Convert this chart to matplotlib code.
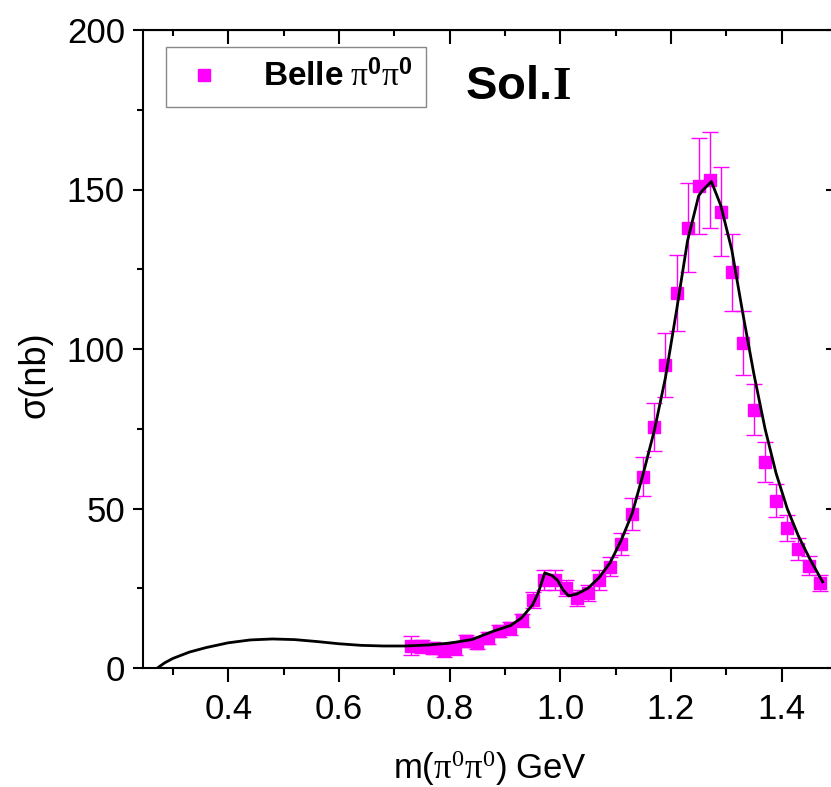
import matplotlib
matplotlib.use("Agg")
from matplotlib import pyplot as plt
from matplotlib.ticker import MultipleLocator
import numpy as np

# fonts: sans for text, serif for the greek letters
plt.rcParams['font.family'] = ['Liberation Sans', 'DejaVu Sans']
plt.rcParams['mathtext.fontset'] = 'custom'
plt.rcParams['mathtext.rm'] = 'Liberation Serif'
plt.rcParams['mathtext.sf'] = 'Liberation Sans'
plt.rcParams['mathtext.bf'] = 'Liberation Sans:bold'
plt.rcParams['mathtext.tt'] = 'Liberation Serif:bold'
plt.rcParams['mathtext.it'] = 'Liberation Serif:italic'

# Belle pi0pi0 data
belle_m = [0.73, 0.75, 0.77, 0.79, 0.81, 0.83, 0.85, 0.87, 0.89, 0.91,
           0.93, 0.95, 0.97, 0.99, 1.01, 1.03, 1.05, 1.07, 1.09, 1.11,
           1.13, 1.15, 1.17, 1.19, 1.21, 1.23, 1.25, 1.27, 1.29, 1.31,
           1.33, 1.35, 1.37, 1.39, 1.41, 1.43, 1.45, 1.47]
belle_sigma = [7.0, 6.8, 6.3, 5.6, 6.2, 8.5, 7.8, 9.4, 11.6, 12.5,
               15.0, 21.3, 27.6, 27.6, 25.0, 22.0, 23.5, 27.6, 31.7, 38.8,
               48.3, 60.0, 75.5, 95.0, 117.5, 138.0, 151.0, 153.0, 143.0, 124.0,
               102.0, 81.0, 64.6, 52.4, 43.9, 37.3, 32.0, 26.6]
belle_err = [3.0, 2.0, 2.0, 2.0, 2.0, 2.0, 2.0, 2.0, 2.0, 2.0,
             2.0, 2.5, 3.0, 3.0, 2.5, 2.5, 2.5, 3.0, 3.0, 3.5,
             5.0, 6.0, 7.5, 10.0, 12.0, 14.0, 15.0, 15.0, 14.0, 12.0,
             10.0, 8.0, 6.3, 5.2, 4.2, 3.5, 3.0, 2.5]

# fit curve (Sol. I)
fit_m = [0.272, 0.285, 0.30, 0.33, 0.36, 0.40, 0.44, 0.48, 0.52, 0.56,
         0.60, 0.64, 0.68, 0.72, 0.76, 0.80, 0.84, 0.88, 0.91, 0.93,
         0.95, 0.96, 0.972, 0.985, 0.995, 1.005, 1.015, 1.03, 1.05, 1.07,
         1.09, 1.11, 1.13, 1.15, 1.17, 1.19, 1.21, 1.23, 1.25, 1.256,
         1.273, 1.29, 1.31, 1.33, 1.35, 1.37, 1.39, 1.41, 1.43, 1.45, 1.474]
fit_sigma = [0.0, 1.6, 3.0, 5.0, 6.4, 7.9, 8.8, 9.1, 8.9, 8.3,
             7.6, 7.1, 6.9, 6.9, 7.2, 7.8, 8.9, 11.6, 13.3, 15.7,
             19.8, 23.5, 29.8, 29.0, 27.5, 24.5, 22.6, 23.2, 25.0, 28.3,
             33.0, 40.0, 48.5, 61.0, 74.5, 91.0, 112.0, 134.0, 148.0, 149.5,
             152.5, 145.0, 131.0, 111.0, 92.0, 75.0, 61.0, 50.0, 41.5, 34.5, 27.0]

fig = plt.figure(figsize=(8.31, 7.87), dpi=100)
ax = fig.add_axes([143 / 831, 119 / 787, 694 / 831, 638 / 787])

ax.errorbar(belle_m, belle_sigma, yerr=belle_err, fmt='none', ecolor='#ff00ff',
            elinewidth=1.0, capsize=6, capthick=1.0, zorder=2)
ax.plot(belle_m, belle_sigma, 's', color='#ff00ff', markersize=9, zorder=3,
        label=r'$\mathbf{Belle}\ \mathrm{\pi}^{\mathbf{0}}\mathrm{\pi}^{\mathbf{0}}$')
ax.plot(fit_m, fit_sigma, color='black', lw=2.0, zorder=4)

ax.set_xlim(0.246, 1.5)
ax.set_ylim(0, 200)
ax.xaxis.set_minor_locator(MultipleLocator(0.1))
ax.yaxis.set_major_locator(MultipleLocator(50))
ax.yaxis.set_minor_locator(MultipleLocator(25))
ax.set_xticks([0.4, 0.6, 0.8, 1.0, 1.2, 1.4])
ax.set_xticklabels(['0.4', '0.6', '0.8', '1.0', '1.2', '1.4'])

for s in ax.spines.values():
    s.set_linewidth(1.5)

ax.tick_params(axis='x', which='major', direction='out', length=10, width=1.5,
               labelsize=25, pad=8, top=False)
ax.tick_params(axis='x', which='minor', direction='out', length=5, width=1.5, top=False)
ax.tick_params(axis='y', which='major', direction='out', length=7, width=1.5,
               labelsize=25, pad=6, right=False)
ax.tick_params(axis='y', which='minor', direction='out', length=4, width=1.5, right=False)

# inward ticks on top and right
ax_top = ax.secondary_xaxis('top')
ax_top.xaxis.set_major_locator(MultipleLocator(0.2))
ax_top.xaxis.set_minor_locator(MultipleLocator(0.1))
ax_top.tick_params(which='major', direction='in', length=10, width=1.5, labeltop=False)
ax_top.tick_params(which='minor', direction='in', length=4, width=1.5)
ax_right = ax.secondary_yaxis('right')
ax_right.yaxis.set_major_locator(MultipleLocator(50))
ax_right.yaxis.set_minor_locator(MultipleLocator(25))
ax_right.tick_params(which='major', direction='in', length=8, width=1.5, labelright=False)
ax_right.tick_params(which='minor', direction='in', length=4, width=1.5)

fig.text(35 / 831, 1 - 375 / 787, 'σ(nb)', rotation=90, fontsize=26,
         ha='center', va='center')
fig.text(490 / 831, 1 - 768 / 787,
         r'$\mathsf{m(}\mathrm{\pi^0\pi^0}\mathsf{)\ GeV}$', fontsize=25,
         ha='center', va='center')

leg = ax.legend(loc='upper left', bbox_to_anchor=(23 / 694, 1 - 17 / 638),
                fontsize=24, handlelength=1.5, handletextpad=1.0,
                borderpad=0.4, fancybox=False, framealpha=1,
                edgecolor='#888888', borderaxespad=0)
leg.get_frame().set_linewidth(1.0)

ax.text((465 - 143) / 694, (668 - 99) / 638, r'$\mathbf{Sol.}\!\mathtt{I}$',
        fontsize=34, transform=ax.transAxes)

fig.savefig('out.png', dpi=100)
